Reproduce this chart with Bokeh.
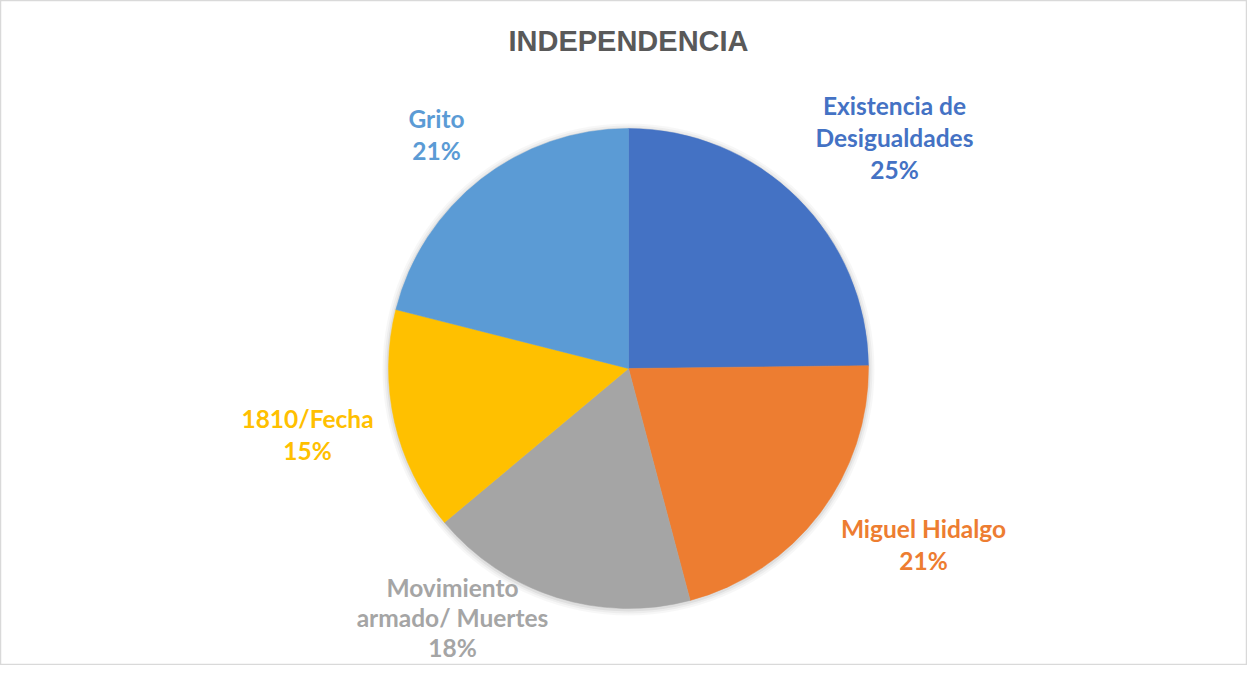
import numpy as np
from bokeh.plotting import figure
from bokeh.models import Range1d, ColumnDataSource
from bokeh.core.properties import value
from bokeh.embed import file_html
from bokeh.resources import INLINE

# ---- data ----
categories = ["Existencia de Desigualdades", "Miguel Hidalgo", "Movimiento armado/ Muertes", "1810/Fecha", "Grito"]
counts = [33, 28, 24, 20, 28]
colors = ["#4472C4", "#ED7D31", "#A5A5A5", "#FFC000", "#5B9BD5"]
label_lines = [["Existencia de", "Desigualdades"], ["Miguel Hidalgo"], ["Movimiento", "armado/ Muertes"], ["1810/Fecha"], ["Grito"]]
title_text = "INDEPENDENCIA"

# ---- layout (pixels from top-left of the figure) ----
W, H = 1247, 665
TEXT_SHIFT = 9  # correction for baseline rendering
def fy(page_y):
    return H - page_y
def fx(page_x):
    return page_x

cx, cy, R = fx(628), fy(368), 240
label_pos = [  # (center x, first baseline, line gap)
    (894, 114, 32),
    (923, 537, 32),
    (452, 596, 30),
    (307, 427, 32),
    (436, 127, 32),
]

vals = np.array(counts, dtype=float)
frac = vals / vals.sum()
cum = np.concatenate([[0], np.cumsum(frac)])
start = np.pi / 2 - cum[:-1] * 2 * np.pi
end = np.pi / 2 - cum[1:] * 2 * np.pi

p = figure(width=W, height=H, output_backend="svg", toolbar_location=None,
           x_range=Range1d(0, W), y_range=Range1d(0, H), min_border=0)
p.axis.visible = False
p.grid.visible = False
p.outline_line_color = "#D9D9D9"
p.outline_line_width = 1.5
p.background_fill_color = "white"

# soft shadow
for dr, a in [(6, 0.03), (4, 0.04), (2, 0.06)]:
    p.circle(x=[cx], y=[cy - 1], radius=R + dr, fill_color="#000000", fill_alpha=a, line_color=None)

src = ColumnDataSource(dict(start=start, end=end, color=colors, cat=categories))
p.wedge(x=cx, y=cy, radius=R, start_angle="start", end_angle="end", direction="clock",
        fill_color="color", line_color="color", line_width=0.5, source=src)

# title
p.text(x=[fx(628)], y=[fy(49 - TEXT_SHIFT)], text=[title_text], text_font=value("Liberation Sans"),
       text_font_style="bold", text_font_size="29px", text_color="#595959",
       text_align="center", text_baseline="alphabetic")

# labels
for i, (lines, (lx, ly, gap)) in enumerate(zip(label_lines, label_pos)):
    pct = f"{round(frac[i] * 100):.0f}%"
    all_lines = lines + [pct]
    xs = [fx(lx)] * len(all_lines)
    ys = [fy(ly - TEXT_SHIFT + k * gap) for k in range(len(all_lines))]
    p.text(x=xs, y=ys, text=all_lines, text_font=value("Lato"), text_font_style="bold",
           text_font_size="24.5px", text_color=colors[i], text_align="center",
           text_baseline="alphabetic")

open("out.html", "w").write(file_html(p, INLINE))
